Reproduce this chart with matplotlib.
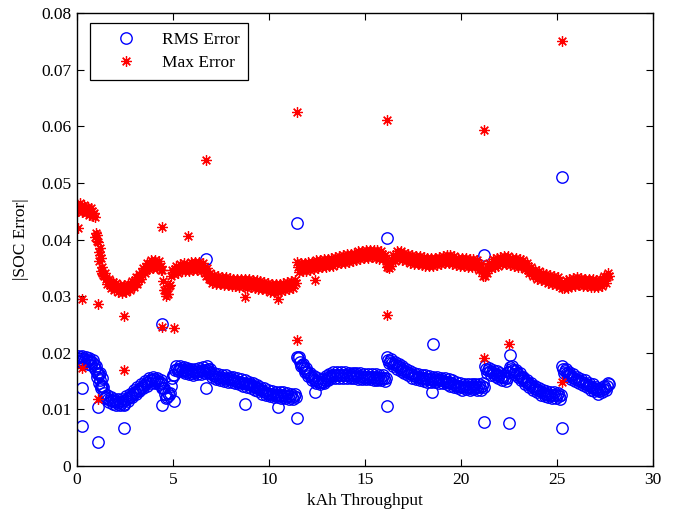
import numpy as np
import matplotlib
matplotlib.use("Agg")
import matplotlib.pyplot as plt

# Cycling tests, first half of each 0.1 kAh step: throughput (kAh), RMS and max |SOC error|
throughput = [
    0.0, 0.1, 0.2, 0.3, 0.4, 0.5, 0.6, 0.7, 0.8, 0.9,
    1.0, 1.1, 1.2, 1.3, 1.4, 1.5, 1.6, 1.7, 1.8, 1.9,
    2.0, 2.1, 2.2, 2.3, 2.4, 2.5, 2.6, 2.7, 2.8, 2.9,
    3.0, 3.1, 3.2, 3.3, 3.4, 3.5, 3.6, 3.7, 3.8, 3.9,
    4.0, 4.1, 4.2, 4.3, 4.4, 4.5, 4.6, 4.7, 4.8, 4.9,
    5.0, 5.1, 5.2, 5.3, 5.4, 5.5, 5.6, 5.7, 5.8, 5.9,
    6.0, 6.1, 6.2, 6.3, 6.4, 6.5, 6.6, 6.7, 6.8, 6.9,
    7.0, 7.1, 7.2, 7.3, 7.4, 7.5, 7.6, 7.7, 7.8, 7.9,
    8.0, 8.1, 8.2, 8.3, 8.4, 8.5, 8.6, 8.7, 8.8, 8.9,
    9.0, 9.1, 9.2, 9.3, 9.4, 9.5, 9.6, 9.7, 9.8, 9.9,
    10.0, 10.1, 10.2, 10.3, 10.4, 10.5, 10.6, 10.7, 10.8, 10.9,
    11.0, 11.1, 11.2, 11.3, 11.4, 11.5, 11.6, 11.7, 11.8, 11.9,
    12.0, 12.1, 12.2, 12.3, 12.4, 12.5, 12.6, 12.7, 12.8, 12.9,
    13.0, 13.1, 13.2, 13.3, 13.4, 13.5, 13.6, 13.7, 13.8, 13.9,
    14.0, 14.1, 14.2, 14.3, 14.4, 14.5, 14.6, 14.7, 14.8, 14.9,
    15.0, 15.1, 15.2, 15.3, 15.4, 15.5, 15.6, 15.7, 15.8, 15.9,
    16.0, 16.1, 16.2, 16.3, 16.4, 16.5, 16.6, 16.7, 16.8, 16.9,
    17.0, 17.1, 17.2, 17.3, 17.4, 17.5, 17.6, 17.7, 17.8, 17.9,
    18.0, 18.1, 18.2, 18.3, 18.4, 18.5, 18.6, 18.7, 18.8, 18.9,
    19.0, 19.1, 19.2, 19.3, 19.4, 19.5, 19.6, 19.7, 19.8, 19.9,
    20.0, 20.1, 20.2, 20.3, 20.4, 20.5, 20.6, 20.7, 20.8, 20.9,
    21.0, 21.1, 21.2, 21.3, 21.4, 21.5, 21.6, 21.7, 21.8, 21.9,
    22.0, 22.1, 22.2, 22.3, 22.4, 22.5, 22.6, 22.7, 22.8, 22.9,
    23.0, 23.1, 23.2, 23.3, 23.4, 23.5, 23.6, 23.7, 23.8, 23.9,
    24.0, 24.1, 24.2, 24.3, 24.4, 24.5, 24.6, 24.7, 24.8, 24.9,
    25.0, 25.1, 25.2, 25.3, 25.4, 25.5, 25.6, 25.7, 25.8, 25.9,
    26.0, 26.1, 26.2, 26.3, 26.4, 26.5, 26.6, 26.7, 26.8, 26.9,
    27.0, 27.1, 27.2, 27.3, 27.4, 27.5, 27.6, 27.7,
]

rms_error = [
    0.0191, 0.0188, 0.0192, 0.0187, 0.0189, 0.0185, 0.0187, 0.0183, 0.0184, 0.0180,
    0.0176, 0.0162, 0.0151, 0.0141, 0.0129, 0.0121, 0.0119, 0.0117, 0.0116, 0.0114,
    0.0114, 0.0112, 0.0113, 0.0111, 0.0114, 0.0116, 0.0119, 0.0121, 0.0124, 0.0127,
    0.0130, 0.0133, 0.0135, 0.0138, 0.0140, 0.0143, 0.0146, 0.0148, 0.0151, 0.0152,
    0.0153, 0.0151, 0.0150, 0.0148, 0.0146, 0.0138, 0.0128, 0.0121, 0.0126, 0.0141,
    0.0160, 0.0169, 0.0172, 0.0171, 0.0173, 0.0170, 0.0168, 0.0169, 0.0166, 0.0167,
    0.0165, 0.0167, 0.0166, 0.0168, 0.0167, 0.0169, 0.0168, 0.0170, 0.0171, 0.0168,
    0.0164, 0.0161, 0.0159, 0.0157, 0.0156, 0.0157, 0.0155, 0.0154, 0.0155, 0.0153,
    0.0153, 0.0152, 0.0151, 0.0150, 0.0149, 0.0148, 0.0147, 0.0146, 0.0145, 0.0144,
    0.0144, 0.0142, 0.0141, 0.0139, 0.0137, 0.0136, 0.0134, 0.0132, 0.0131, 0.0129,
    0.0128, 0.0127, 0.0127, 0.0126, 0.0125, 0.0126, 0.0125, 0.0124, 0.0125, 0.0124,
    0.0123, 0.0124, 0.0122, 0.0123, 0.0122, 0.0190, 0.0184, 0.0178, 0.0173, 0.0169,
    0.0166, 0.0162, 0.0158, 0.0155, 0.0152, 0.0150, 0.0149, 0.0148, 0.0149, 0.0152,
    0.0155, 0.0157, 0.0159, 0.0160, 0.0161, 0.0160, 0.0161, 0.0160, 0.0161, 0.0160,
    0.0161, 0.0160, 0.0159, 0.0160, 0.0160, 0.0159, 0.0160, 0.0158, 0.0159, 0.0158,
    0.0158, 0.0157, 0.0158, 0.0157, 0.0157, 0.0156, 0.0157, 0.0156, 0.0155, 0.0156,
    0.0155, 0.0155, 0.0188, 0.0185, 0.0182, 0.0180, 0.0178, 0.0176, 0.0174, 0.0172,
    0.0170, 0.0168, 0.0166, 0.0164, 0.0162, 0.0160, 0.0159, 0.0158, 0.0157, 0.0156,
    0.0155, 0.0155, 0.0154, 0.0153, 0.0154, 0.0153, 0.0152, 0.0153, 0.0152, 0.0151,
    0.0151, 0.0150, 0.0149, 0.0148, 0.0148, 0.0146, 0.0145, 0.0143, 0.0142, 0.0141,
    0.0140, 0.0140, 0.0141, 0.0140, 0.0139, 0.0140, 0.0141, 0.0140, 0.0139, 0.0140,
    0.0140, 0.0141, 0.0140, 0.0171, 0.0169, 0.0167, 0.0166, 0.0165, 0.0163, 0.0161,
    0.0160, 0.0158, 0.0157, 0.0155, 0.0156, 0.0166, 0.0172, 0.0170, 0.0167, 0.0164,
    0.0161, 0.0158, 0.0155, 0.0152, 0.0149, 0.0146, 0.0143, 0.0141, 0.0138, 0.0136,
    0.0134, 0.0132, 0.0131, 0.0129, 0.0128, 0.0127, 0.0126, 0.0125, 0.0126, 0.0125,
    0.0125, 0.0124, 0.0125, 0.0171, 0.0168, 0.0165, 0.0163, 0.0160, 0.0158, 0.0156,
    0.0154, 0.0152, 0.0150, 0.0149, 0.0147, 0.0145, 0.0143, 0.0141, 0.0140, 0.0138,
    0.0136, 0.0134, 0.0133, 0.0134, 0.0136, 0.0138, 0.0141, 0.0144,
]

max_error = [
    0.0462, 0.0455, 0.0460, 0.0452, 0.0457, 0.0449, 0.0454, 0.0447, 0.0451, 0.0446,
    0.0412, 0.0396, 0.0372, 0.0352, 0.0336, 0.0330, 0.0326, 0.0322, 0.0320, 0.0316,
    0.0318, 0.0313, 0.0315, 0.0310, 0.0313, 0.0311, 0.0316, 0.0314, 0.0319, 0.0320,
    0.0326, 0.0325, 0.0331, 0.0333, 0.0342, 0.0344, 0.0351, 0.0352, 0.0357, 0.0355,
    0.0359, 0.0355, 0.0357, 0.0352, 0.0354, 0.0326, 0.0310, 0.0304, 0.0318, 0.0335,
    0.0343, 0.0348, 0.0346, 0.0350, 0.0349, 0.0353, 0.0350, 0.0352, 0.0348, 0.0354,
    0.0351, 0.0356, 0.0352, 0.0355, 0.0350, 0.0354, 0.0349, 0.0345, 0.0338, 0.0336,
    0.0331, 0.0329, 0.0332, 0.0326, 0.0330, 0.0325, 0.0328, 0.0324, 0.0328, 0.0323,
    0.0327, 0.0322, 0.0326, 0.0323, 0.0325, 0.0321, 0.0326, 0.0322, 0.0324, 0.0320,
    0.0325, 0.0321, 0.0323, 0.0319, 0.0322, 0.0318, 0.0321, 0.0316, 0.0319, 0.0315,
    0.0317, 0.0313, 0.0316, 0.0312, 0.0315, 0.0313, 0.0317, 0.0314, 0.0318, 0.0316,
    0.0320, 0.0317, 0.0322, 0.0319, 0.0324, 0.0352, 0.0348, 0.0353, 0.0349, 0.0354,
    0.0350, 0.0355, 0.0352, 0.0356, 0.0353, 0.0357, 0.0354, 0.0359, 0.0356, 0.0360,
    0.0357, 0.0361, 0.0358, 0.0362, 0.0360, 0.0364, 0.0361, 0.0366, 0.0363, 0.0367,
    0.0365, 0.0369, 0.0366, 0.0370, 0.0368, 0.0372, 0.0369, 0.0374, 0.0371, 0.0375,
    0.0373, 0.0376, 0.0372, 0.0377, 0.0374, 0.0376, 0.0372, 0.0375, 0.0371, 0.0374,
    0.0370, 0.0362, 0.0354, 0.0358, 0.0363, 0.0367, 0.0370, 0.0374, 0.0371, 0.0373,
    0.0369, 0.0371, 0.0366, 0.0368, 0.0363, 0.0366, 0.0362, 0.0365, 0.0361, 0.0364,
    0.0360, 0.0363, 0.0359, 0.0362, 0.0358, 0.0361, 0.0359, 0.0363, 0.0360, 0.0364,
    0.0362, 0.0366, 0.0363, 0.0367, 0.0364, 0.0366, 0.0362, 0.0364, 0.0360, 0.0362,
    0.0359, 0.0362, 0.0358, 0.0361, 0.0357, 0.0360, 0.0356, 0.0359, 0.0357, 0.0355,
    0.0352, 0.0346, 0.0340, 0.0344, 0.0350, 0.0354, 0.0357, 0.0360, 0.0358, 0.0362,
    0.0360, 0.0364, 0.0361, 0.0365, 0.0362, 0.0364, 0.0360, 0.0362, 0.0358, 0.0361,
    0.0357, 0.0359, 0.0356, 0.0357, 0.0352, 0.0350, 0.0345, 0.0343, 0.0340, 0.0339,
    0.0336, 0.0337, 0.0333, 0.0335, 0.0331, 0.0333, 0.0329, 0.0331, 0.0327, 0.0329,
    0.0325, 0.0327, 0.0323, 0.0320, 0.0322, 0.0320, 0.0324, 0.0322, 0.0326, 0.0323,
    0.0327, 0.0324, 0.0327, 0.0323, 0.0326, 0.0322, 0.0325, 0.0321, 0.0324, 0.0322,
    0.0323, 0.0321, 0.0325, 0.0323, 0.0327, 0.0329, 0.0333, 0.0335,
]

# Cycling tests, second half of each 0.1 kAh step
throughput_mid = [
    0.05, 0.15, 0.25, 0.35, 0.45, 0.55, 0.65, 0.75, 0.85, 0.95,
    1.05, 1.15, 1.25, 1.35, 1.45, 1.55, 1.65, 1.75, 1.85, 1.95,
    2.05, 2.15, 2.25, 2.35, 2.45, 2.55, 2.65, 2.75, 2.85, 2.95,
    3.05, 3.15, 3.25, 3.35, 3.45, 3.55, 3.65, 3.75, 3.85, 3.95,
    4.05, 4.15, 4.25, 4.35, 4.45, 4.55, 4.65, 4.75, 4.85, 4.95,
    5.05, 5.15, 5.25, 5.35, 5.45, 5.55, 5.65, 5.75, 5.85, 5.95,
    6.05, 6.15, 6.25, 6.35, 6.45, 6.55, 6.65, 6.75, 6.85, 6.95,
    7.05, 7.15, 7.25, 7.35, 7.45, 7.55, 7.65, 7.75, 7.85, 7.95,
    8.05, 8.15, 8.25, 8.35, 8.45, 8.55, 8.65, 8.75, 8.85, 8.95,
    9.05, 9.15, 9.25, 9.35, 9.45, 9.55, 9.65, 9.75, 9.85, 9.95,
    10.05, 10.15, 10.25, 10.35, 10.45, 10.55, 10.65, 10.75, 10.85, 10.95,
    11.05, 11.15, 11.25, 11.35, 11.45, 11.55, 11.65, 11.75, 11.85, 11.95,
    12.05, 12.15, 12.25, 12.35, 12.45, 12.55, 12.65, 12.75, 12.85, 12.95,
    13.05, 13.15, 13.25, 13.35, 13.45, 13.55, 13.65, 13.75, 13.85, 13.95,
    14.05, 14.15, 14.25, 14.35, 14.45, 14.55, 14.65, 14.75, 14.85, 14.95,
    15.05, 15.15, 15.25, 15.35, 15.45, 15.55, 15.65, 15.75, 15.85, 15.95,
    16.05, 16.15, 16.25, 16.35, 16.45, 16.55, 16.65, 16.75, 16.85, 16.95,
    17.05, 17.15, 17.25, 17.35, 17.45, 17.55, 17.65, 17.75, 17.85, 17.95,
    18.05, 18.15, 18.25, 18.35, 18.45, 18.55, 18.65, 18.75, 18.85, 18.95,
    19.05, 19.15, 19.25, 19.35, 19.45, 19.55, 19.65, 19.75, 19.85, 19.95,
    20.05, 20.15, 20.25, 20.35, 20.45, 20.55, 20.65, 20.75, 20.85, 20.95,
    21.05, 21.15, 21.25, 21.35, 21.45, 21.55, 21.65, 21.75, 21.85, 21.95,
    22.05, 22.15, 22.25, 22.35, 22.45, 22.55, 22.65, 22.75, 22.85, 22.95,
    23.05, 23.15, 23.25, 23.35, 23.45, 23.55, 23.65, 23.75, 23.85, 23.95,
    24.05, 24.15, 24.25, 24.35, 24.45, 24.55, 24.65, 24.75, 24.85, 24.95,
    25.05, 25.15, 25.25, 25.35, 25.45, 25.55, 25.65, 25.75, 25.85, 25.95,
    26.05, 26.15, 26.25, 26.35, 26.45, 26.55, 26.65, 26.75, 26.85, 26.95,
    27.05, 27.15, 27.25, 27.35, 27.45, 27.55, 27.65,
]

rms_error_mid = [
    0.0195, 0.0185, 0.0195, 0.0183, 0.0192, 0.0181, 0.0190, 0.0179, 0.0187, 0.0173,
    0.0164, 0.0162, 0.0141, 0.0140, 0.0120, 0.0125, 0.0113, 0.0122, 0.0110, 0.0119,
    0.0108, 0.0118, 0.0107, 0.0118, 0.0110, 0.0123, 0.0115, 0.0128, 0.0121, 0.0134,
    0.0127, 0.0139, 0.0132, 0.0144, 0.0137, 0.0150, 0.0142, 0.0155, 0.0147, 0.0158,
    0.0147, 0.0156, 0.0144, 0.0152, 0.0137, 0.0138, 0.0120, 0.0129, 0.0129, 0.0156,
    0.0160, 0.0176, 0.0167, 0.0177, 0.0167, 0.0174, 0.0164, 0.0173, 0.0162, 0.0171,
    0.0161, 0.0172, 0.0162, 0.0173, 0.0163, 0.0174, 0.0164, 0.0176, 0.0165, 0.0171,
    0.0158, 0.0165, 0.0153, 0.0162, 0.0152, 0.0161, 0.0150, 0.0160, 0.0149, 0.0158,
    0.0148, 0.0157, 0.0146, 0.0155, 0.0144, 0.0153, 0.0142, 0.0151, 0.0140, 0.0149,
    0.0138, 0.0147, 0.0135, 0.0143, 0.0132, 0.0140, 0.0128, 0.0137, 0.0125, 0.0134,
    0.0123, 0.0132, 0.0122, 0.0131, 0.0121, 0.0131, 0.0120, 0.0130, 0.0120, 0.0129,
    0.0119, 0.0128, 0.0118, 0.0127, 0.0193, 0.0192, 0.0176, 0.0181, 0.0166, 0.0173,
    0.0159, 0.0165, 0.0152, 0.0159, 0.0146, 0.0155, 0.0144, 0.0154, 0.0146, 0.0159,
    0.0151, 0.0163, 0.0155, 0.0166, 0.0156, 0.0166, 0.0156, 0.0166, 0.0156, 0.0166,
    0.0155, 0.0165, 0.0155, 0.0165, 0.0155, 0.0165, 0.0154, 0.0164, 0.0154, 0.0163,
    0.0153, 0.0163, 0.0153, 0.0162, 0.0152, 0.0162, 0.0152, 0.0161, 0.0151, 0.0161,
    0.0150, 0.0192, 0.0182, 0.0189, 0.0176, 0.0184, 0.0172, 0.0180, 0.0168, 0.0176,
    0.0164, 0.0172, 0.0160, 0.0168, 0.0156, 0.0165, 0.0154, 0.0163, 0.0152, 0.0161,
    0.0150, 0.0160, 0.0149, 0.0159, 0.0149, 0.0158, 0.0148, 0.0158, 0.0147, 0.0156,
    0.0146, 0.0155, 0.0144, 0.0153, 0.0142, 0.0151, 0.0139, 0.0148, 0.0137, 0.0146,
    0.0135, 0.0145, 0.0136, 0.0145, 0.0135, 0.0145, 0.0136, 0.0145, 0.0135, 0.0145,
    0.0135, 0.0146, 0.0176, 0.0165, 0.0173, 0.0161, 0.0170, 0.0159, 0.0167, 0.0155,
    0.0164, 0.0152, 0.0161, 0.0150, 0.0166, 0.0174, 0.0176, 0.0163, 0.0170, 0.0157,
    0.0164, 0.0151, 0.0158, 0.0145, 0.0152, 0.0139, 0.0147, 0.0134, 0.0142, 0.0130,
    0.0138, 0.0126, 0.0135, 0.0123, 0.0132, 0.0121, 0.0130, 0.0120, 0.0130, 0.0120,
    0.0129, 0.0119, 0.0176, 0.0164, 0.0171, 0.0159, 0.0166, 0.0154, 0.0162, 0.0150,
    0.0158, 0.0146, 0.0154, 0.0143, 0.0151, 0.0139, 0.0147, 0.0135, 0.0144, 0.0132,
    0.0140, 0.0128, 0.0138, 0.0130, 0.0142, 0.0134, 0.0147,
]

max_error_mid = [
    0.0451, 0.0464, 0.0449, 0.0461, 0.0446, 0.0458, 0.0443, 0.0456, 0.0441, 0.0440,
    0.0408, 0.0378, 0.0368, 0.0338, 0.0340, 0.0321, 0.0331, 0.0314, 0.0325, 0.0310,
    0.0323, 0.0307, 0.0320, 0.0305, 0.0319, 0.0307, 0.0322, 0.0310, 0.0327, 0.0316,
    0.0333, 0.0321, 0.0339, 0.0331, 0.0350, 0.0341, 0.0359, 0.0348, 0.0363, 0.0350,
    0.0364, 0.0349, 0.0362, 0.0346, 0.0347, 0.0311, 0.0300, 0.0304, 0.0320, 0.0346,
    0.0339, 0.0354, 0.0341, 0.0357, 0.0344, 0.0359, 0.0344, 0.0357, 0.0344, 0.0360,
    0.0347, 0.0361, 0.0347, 0.0360, 0.0345, 0.0359, 0.0340, 0.0349, 0.0330, 0.0341,
    0.0323, 0.0338, 0.0322, 0.0335, 0.0321, 0.0334, 0.0319, 0.0333, 0.0319, 0.0332,
    0.0318, 0.0331, 0.0318, 0.0331, 0.0316, 0.0331, 0.0317, 0.0330, 0.0315, 0.0330,
    0.0316, 0.0329, 0.0314, 0.0328, 0.0313, 0.0327, 0.0312, 0.0325, 0.0310, 0.0323,
    0.0308, 0.0322, 0.0307, 0.0321, 0.0307, 0.0322, 0.0309, 0.0323, 0.0310, 0.0325,
    0.0312, 0.0327, 0.0314, 0.0329, 0.0360, 0.0343, 0.0358, 0.0344, 0.0359, 0.0345,
    0.0360, 0.0347, 0.0361, 0.0348, 0.0363, 0.0349, 0.0364, 0.0351, 0.0365, 0.0352,
    0.0366, 0.0353, 0.0367, 0.0354, 0.0369, 0.0356, 0.0371, 0.0358, 0.0372, 0.0359,
    0.0374, 0.0361, 0.0375, 0.0362, 0.0377, 0.0364, 0.0379, 0.0366, 0.0380, 0.0367,
    0.0382, 0.0367, 0.0382, 0.0369, 0.0382, 0.0367, 0.0381, 0.0366, 0.0380, 0.0365,
    0.0373, 0.0351, 0.0349, 0.0354, 0.0372, 0.0362, 0.0379, 0.0366, 0.0379, 0.0364,
    0.0377, 0.0362, 0.0374, 0.0359, 0.0372, 0.0357, 0.0371, 0.0356, 0.0370, 0.0355,
    0.0369, 0.0354, 0.0368, 0.0353, 0.0367, 0.0353, 0.0368, 0.0355, 0.0369, 0.0356,
    0.0371, 0.0358, 0.0372, 0.0359, 0.0372, 0.0357, 0.0370, 0.0355, 0.0368, 0.0354,
    0.0368, 0.0353, 0.0367, 0.0352, 0.0366, 0.0351, 0.0365, 0.0351, 0.0363, 0.0347,
    0.0356, 0.0336, 0.0335, 0.0340, 0.0359, 0.0349, 0.0366, 0.0352, 0.0367, 0.0354,
    0.0369, 0.0356, 0.0370, 0.0357, 0.0370, 0.0355, 0.0368, 0.0353, 0.0367, 0.0352,
    0.0365, 0.0351, 0.0364, 0.0348, 0.0358, 0.0341, 0.0351, 0.0335, 0.0347, 0.0331,
    0.0344, 0.0328, 0.0341, 0.0326, 0.0339, 0.0324, 0.0337, 0.0322, 0.0335, 0.0320,
    0.0333, 0.0318, 0.0315, 0.0314, 0.0328, 0.0315, 0.0330, 0.0317, 0.0332, 0.0318,
    0.0333, 0.0319, 0.0332, 0.0318, 0.0331, 0.0317, 0.0330, 0.0316, 0.0330, 0.0316,
    0.0329, 0.0316, 0.0331, 0.0318, 0.0335, 0.0324, 0.0341,
]

# Isolated tests lying away from the main trend
spike_throughput = [
    0.05, 0.25, 0.25, 0.95, 1.05, 1.10, 1.10, 1.15, 1.20, 1.25, 1.30,
    2.45, 2.45, 4.43, 4.43, 5.05, 5.78, 6.70, 6.70, 8.75, 10.47,
    11.45, 11.45, 12.40, 16.15, 16.15, 18.55, 18.50, 21.20, 21.20,
    22.50, 22.55, 25.26, 25.26,
]
spike_rms = [
    0.0186, 0.0138, 0.0071, 0.0172, 0.0158, 0.0105, 0.0042, 0.0147, 0.0165, 0.0137, 0.0155,
    0.0108, 0.0067, 0.0251, 0.0108, 0.0115, 0.0172, 0.0366, 0.0138, 0.0110, 0.0105,
    0.0429, 0.0085, 0.0131, 0.0403, 0.0106, 0.0215, 0.0131, 0.0373, 0.0078,
    0.0076, 0.0196, 0.0510, 0.0067,
]
spike_max = [
    0.0420, 0.0295, 0.0173, 0.0405, 0.0398, 0.0286, 0.0118, 0.0362, 0.0385, 0.0345, 0.0340,
    0.0265, 0.0170, 0.0422, 0.0246, 0.0244, 0.0406, 0.0540, 0.0335, 0.0298, 0.0295,
    0.0625, 0.0222, 0.0328, 0.0611, 0.0267, 0.0362, 0.0360, 0.0593, 0.0191,
    0.0215, 0.0362, 0.0750, 0.0148,
]

x_ticks = [0, 5, 10, 15, 20, 25, 30]
x_tick_labels = ["0", "5", "10", "15", "20", "25", "30"]
y_ticks = [0, 0.01, 0.02, 0.03, 0.04, 0.05, 0.06, 0.07, 0.08]
y_tick_labels = ["0", "0.01", "0.02", "0.03", "0.04", "0.05", "0.06", "0.07", "0.08"]

x_all = np.array(throughput + throughput_mid + spike_throughput)
rms_all = np.array(rms_error + rms_error_mid + spike_rms)
max_all = np.array(max_error + max_error_mid + spike_max)

plt.rcParams["font.family"] = ["Liberation Serif", "DejaVu Serif"]
plt.rcParams["font.size"] = 12.5

fig = plt.figure(figsize=(6.74, 5.12), dpi=100)
ax = fig.add_axes([77 / 674, 46 / 512, 576 / 674, 453 / 512])

asterisk = (8, 2, 0)
ax.plot(x_all, rms_all, linestyle="none", marker="o", markersize=8.2,
        markerfacecolor="none", markeredgecolor=(0, 0, 1), markeredgewidth=1.0,
        label="RMS Error")
ax.plot(x_all, max_all, linestyle="none", marker=asterisk, markersize=7.6,
        color=(1, 0, 0), markeredgecolor=(1, 0, 0), markeredgewidth=0.9,
        label="Max Error")

ax.set_xlim(0, 30)
ax.set_ylim(0, 0.08)
ax.set_xticks(x_ticks)
ax.set_xticklabels(x_tick_labels)
ax.set_yticks(y_ticks)
ax.set_yticklabels(y_tick_labels)
ax.tick_params(direction="in", length=5, width=0.8, top=True, right=True,
               labelsize=12.5, pad=4)
for side in ax.spines.values():
    side.set_linewidth(1.0)

ax.set_xlabel("kAh Throughput", fontsize=12.5, labelpad=4)
ax.set_ylabel("|SOC Error|", fontsize=12.5, labelpad=9)

leg = ax.legend(loc="upper left", bbox_to_anchor=(0.0226, 0.978),
                borderaxespad=0, fancybox=False, framealpha=1,
                edgecolor="black", handlelength=3.2, handletextpad=0.42,
                borderpad=0.5, labelspacing=0.42, fontsize=12.5)
leg.get_frame().set_linewidth(0.9)

fig.savefig("out.png", dpi=100)
